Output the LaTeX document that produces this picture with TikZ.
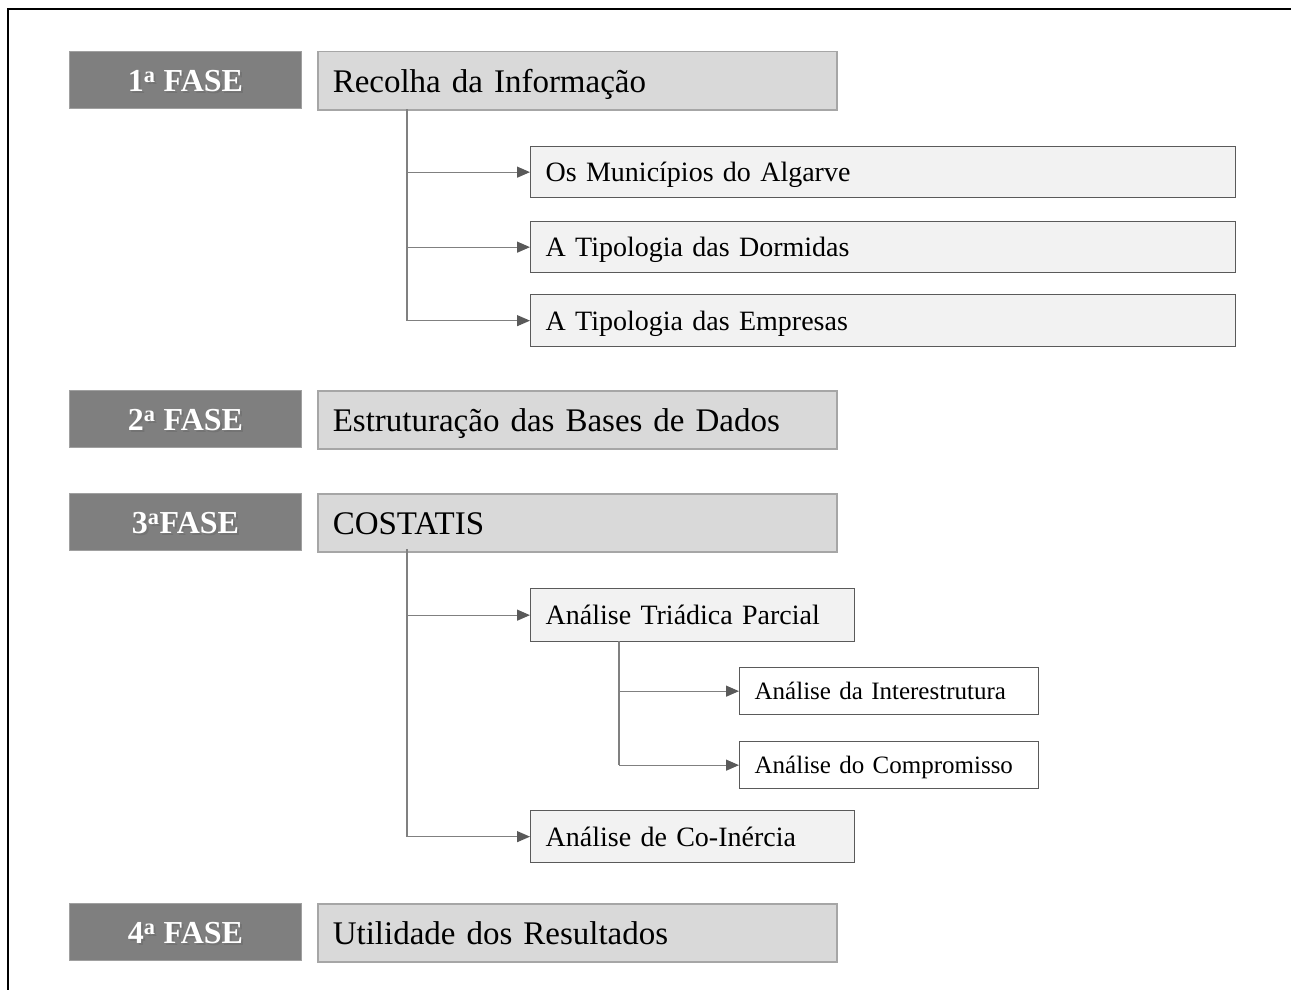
\documentclass[tikz,border=0pt]{standalone}
\usepackage{fontspec}
\setmainfont{Liberation Serif}
\newfontfamily\subfont{Liberation Serif}[WordSpace=1.3]
\usetikzlibrary{arrows.meta}
\definecolor{phasefill}{HTML}{7F7F7F}
\definecolor{phaseedge}{HTML}{A0A0A0}
\definecolor{titlefill}{HTML}{D9D9D9}
\definecolor{titleedge}{HTML}{A6A6A6}
\definecolor{subfill}{HTML}{F2F2F2}
\definecolor{subedge}{HTML}{5A5A5A}
\definecolor{connline}{HTML}{808080}
\definecolor{conntip}{HTML}{595959}
\newcommand{\phasetext}[1]{\rlap{\hspace{2pt}\raisebox{-2pt}{\color{black!55}#1}}#1}
\tikzset{
  phase/.style={text height=25.6pt, text depth=3.2pt, draw=phaseedge, line width=1pt, fill=phasefill, text=white, anchor=north west,
    minimum width=232, minimum height=57, inner sep=0pt,
    font=\fontsize{32}{36}\selectfont\bfseries},
  title/.style={text height=26.4pt, text depth=3.3pt, draw=titleedge, line width=1.5pt, fill=titlefill, anchor=north west,
    minimum width=519, minimum height=58, inner xsep=15pt, inner ysep=0pt, text width=489, align=left,
    font=\fontsize{33}{37}\selectfont},
  subbox/.style={text height=22.4pt, text depth=2.8pt, draw=subedge, line width=1.3pt, fill=subfill, anchor=north west,
    inner xsep=15pt, inner ysep=0pt, align=left,
    font=\subfont\fontsize{28}{32}\selectfont},
  innerbox/.style={text height=20pt, text depth=2.5pt, draw=subedge, line width=1.3pt, fill=white, anchor=north west,
    inner xsep=15pt, inner ysep=0pt, align=left,
    font=\fontsize{25}{29}\selectfont},
  connector/.style={draw=connline, line width=1.2pt},
  arrowconn/.style={connector, -{Triangle[length=13pt,width=11pt,fill=conntip,color=conntip]}},
}
\begin{document}
\begin{tikzpicture}[x=1pt,y=-1pt]
\useasboundingbox (0,0) rectangle (1291,990);
% frame
\draw[line width=1.5pt] (7,9) -- (1291,9);
\draw[line width=1.5pt] (8,9) -- (8,990);

% phases
\node[phase] (p1) at (69,51) {\phasetext{1\textsuperscript{a} FASE}};
\node[phase] (p2) at (69,390) {\phasetext{2\textsuperscript{a} FASE}};
\node[phase] (p3) at (69,493) {\phasetext{3\textsuperscript{a}FASE}};
\node[phase] (p4) at (69,903) {\phasetext{4\textsuperscript{a} FASE}};

% titles
\node[title] (t1) at (317,51) {Recolha da Informação};
\node[title] (t2) at (317,390) {Estruturação das Bases de Dados};
\node[title] (t3) at (317,493) {COSTATIS};
\node[title] (t4) at (317,903) {Utilidade dos Resultados};

% sub boxes phase 1
\node[subbox, minimum width=705, minimum height=51, text width=675] (m1) at (530,146) {Os Municípios do Algarve};
\node[subbox, minimum width=705, minimum height=51, text width=675] (m2) at (530,221) {A Tipologia das Dormidas};
\node[subbox, minimum width=705, minimum height=52, text width=675] (m3) at (530,294) {A Tipologia das Empresas};

% sub boxes phase 3
\node[subbox, minimum width=324, minimum height=53, text width=294] (a1) at (530,588) {Análise Triádica Parcial};
\node[subbox, minimum width=324, minimum height=52, text width=294] (a2) at (530,810) {Análise de Co-Inércia};
\node[innerbox, minimum width=299, minimum height=47, text width=269] (b1) at (739,667) {Análise da Interestrutura};
\node[innerbox, minimum width=299, minimum height=47, text width=269] (b2) at (739,741) {Análise do Compromisso};

% connectors phase 1
\coordinate (c1) at (407,109);
\draw[connector] (c1) -- (c1 |- m3.west);
\draw[arrowconn] (c1 |- m1.west) -- (m1.west);
\draw[arrowconn] (c1 |- m2.west) -- (m2.west);
\draw[arrowconn] (c1 |- m3.west) -- (m3.west);

% connectors phase 3
\coordinate (c3) at (407,549);
\draw[connector] (c3) -- (c3 |- a2.west);
\draw[arrowconn] (c3 |- a1.west) -- (a1.west);
\draw[arrowconn] (c3 |- a2.west) -- (a2.west);

\coordinate (c4) at (619,641);
\draw[connector] (c4) -- (c4 |- b2.west);
\draw[arrowconn] (c4 |- b1.west) -- (b1.west);
\draw[arrowconn] (c4 |- b2.west) -- (b2.west);
\end{tikzpicture}
\end{document}
